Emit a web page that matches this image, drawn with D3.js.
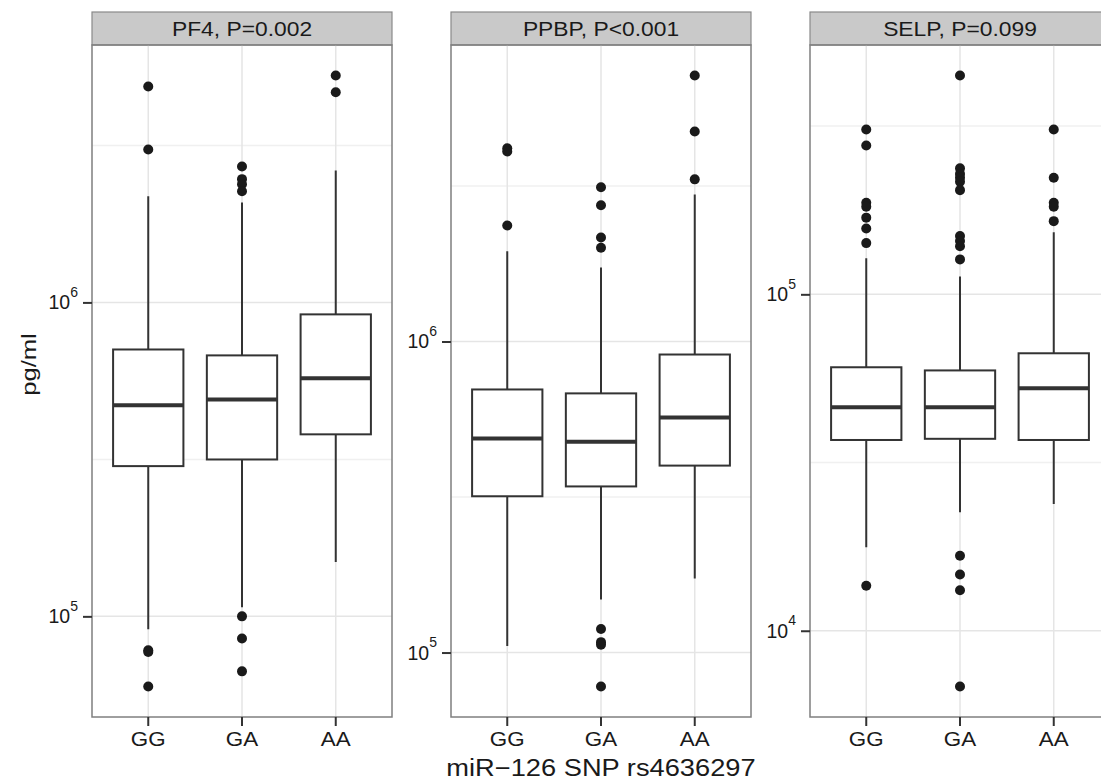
<!DOCTYPE html>
<html>
<head>
<meta charset="utf-8">
<script src="https://cdn.jsdelivr.net/npm/d3@7"></script>
<style>
  html, body { margin: 0; padding: 0; background: #fff; }
  svg { display: block; font-family: "Liberation Sans", Arial, sans-serif; }
</style>
</head>
<body>
<div id="chart"></div>
<script>
const genotypes = ["GG", "GA", "AA"]
const panelTitles = ["PF4, P=0.002", "PPBP, P<0.001", "SELP, P=0.099"]

// [lower whisker, Q1, median, Q3, upper whisker] per genotype
const pf4Stats = [
  [9.1e4, 3.01e5, 4.7e5, 7.08e5, 2.18e6],
  [1.07e5, 3.16e5, 4.91e5, 6.78e5, 2.08e6],
  [1.49e5, 3.8e5, 5.73e5, 9.16e5, 2.63e6]
]
const pf4Outliers = [
  [4.87e6, 3.07e6, 7.8e4, 7.7e4, 5.98e4],
  [2.71e6, 2.47e6, 2.38e6, 2.26e6, 1.0e5, 8.5e4, 6.68e4],
  [5.28e6, 4.67e6]
]

const ppbpStats = [
  [1.05e5, 3.18e5, 4.88e5, 7.01e5, 1.95e6],
  [1.48e5, 3.42e5, 4.76e5, 6.81e5, 1.73e6],
  [1.73e5, 3.99e5, 5.7e5, 9.08e5, 2.97e6]
]
const ppbpOutliers = [
  [4.18e6, 4.08e6, 2.36e6],
  [3.13e6, 2.74e6, 2.16e6, 2.0e6, 1.19e5, 1.08e5, 1.06e5, 7.78e4],
  [7.16e6, 4.73e6, 3.32e6]
]

const selpStats = [
  [1.77e4, 3.69e4, 4.62e4, 6.07e4, 1.28e5],
  [2.25e4, 3.72e4, 4.62e4, 5.94e4, 1.13e5],
  [2.38e4, 3.69e4, 5.26e4, 6.68e4, 1.53e5]
]
const selpOutliers = [
  [3.09e5, 2.77e5, 1.87e5, 1.82e5, 1.69e5, 1.57e5, 1.42e5, 1.36e4],
  [4.47e5, 2.37e5, 2.28e5, 2.22e5, 2.16e5, 2.04e5, 1.49e5, 1.44e5, 1.39e5, 1.27e5, 1.67e4, 1.47e4, 1.32e4, 6.83e3],
  [3.09e5, 2.22e5, 1.87e5, 1.82e5, 1.65e5]
]

const panelStats = [pf4Stats, ppbpStats, selpStats]
const panelOutliers = [pf4Outliers, ppbpOutliers, selpOutliers]

const width = 1101
const height = 784
const panelLeft = [92, 451, 810]
const panelWidth = 300
const stripTop = 12
const panelTop = 45
const panelBottom = 717
const textColor = "#1a1a1a"

const svg = d3.select("#chart")
  .append("svg")
  .attr("width", width)
  .attr("height", height)

panelTitles.forEach((title, i) => {
  const stats = panelStats[i]
  const outliers = panelOutliers[i]
  const allVals = stats.flat().concat(outliers.flat())
  const lo = Math.log10(d3.min(allVals))
  const hi = Math.log10(d3.max(allVals))
  const pad = (hi - lo) * 0.05

  const x = d3.scaleBand()
    .domain(genotypes)
    .range([panelLeft[i], panelLeft[i] + panelWidth])
    .paddingInner(0)
    .paddingOuter(0.1)
  const y = d3.scaleLog()
    .domain([Math.pow(10, lo - pad), Math.pow(10, hi + pad)])
    .range([panelBottom, panelTop])

  const cx = (g) => x(g) + x.bandwidth() / 2
  const boxW = x.bandwidth() * 0.75

  const g = svg.append("g")

  // strip
  g.append("rect")
    .attr("x", panelLeft[i])
    .attr("y", stripTop)
    .attr("width", panelWidth)
    .attr("height", panelTop - stripTop)
    .attr("fill", "#c9c9c9")
    .attr("stroke", "#8a8a8a")
    .attr("stroke-width", 1.2)
  g.append("text")
    .attr("transform", `translate(${panelLeft[i] + panelWidth / 2},${(stripTop + panelTop) / 2 + 7}) scale(1.17,1)`)
    .attr("text-anchor", "middle")
    .attr("font-size", "19.5px")
    .attr("fill", textColor)
    .text(title)

  // gridlines
  const majors = d3.range(Math.ceil(lo - pad), Math.floor(hi + pad) + 1)
  const minors = d3.range(Math.floor(lo - pad) + 0.5, hi + pad, 1)
    .filter((d) => d > lo - pad && d < hi + pad)

  g.selectAll(".minor")
    .data(minors)
    .enter()
    .append("line")
    .attr("x1", panelLeft[i])
    .attr("x2", panelLeft[i] + panelWidth)
    .attr("y1", (d) => y(Math.pow(10, d)))
    .attr("y2", (d) => y(Math.pow(10, d)))
    .attr("stroke", "#f0f0f0")
    .attr("stroke-width", 1.5)
  g.selectAll(".major")
    .data(majors)
    .enter()
    .append("line")
    .attr("x1", panelLeft[i])
    .attr("x2", panelLeft[i] + panelWidth)
    .attr("y1", (d) => y(Math.pow(10, d)))
    .attr("y2", (d) => y(Math.pow(10, d)))
    .attr("stroke", "#e5e5e5")
    .attr("stroke-width", 1.5)
  g.selectAll(".vgrid")
    .data(genotypes)
    .enter()
    .append("line")
    .attr("x1", cx)
    .attr("x2", cx)
    .attr("y1", panelTop)
    .attr("y2", panelBottom)
    .attr("stroke", "#e5e5e5")
    .attr("stroke-width", 1.5)

  // whiskers
  g.selectAll(".whisker")
    .data(stats)
    .enter()
    .append("line")
    .attr("x1", (d, j) => cx(genotypes[j]))
    .attr("x2", (d, j) => cx(genotypes[j]))
    .attr("y1", (d) => y(d[0]))
    .attr("y2", (d) => y(d[4]))
    .attr("stroke", "#333333")
    .attr("stroke-width", 2)

  // boxes
  g.selectAll(".box")
    .data(stats)
    .enter()
    .append("rect")
    .attr("x", (d, j) => cx(genotypes[j]) - boxW / 2)
    .attr("y", (d) => y(d[3]))
    .attr("width", boxW)
    .attr("height", (d) => y(d[1]) - y(d[3]))
    .attr("fill", "#fff")
    .attr("stroke", "#333333")
    .attr("stroke-width", 2)

  g.selectAll(".median")
    .data(stats)
    .enter()
    .append("line")
    .attr("x1", (d, j) => cx(genotypes[j]) - boxW / 2)
    .attr("x2", (d, j) => cx(genotypes[j]) + boxW / 2)
    .attr("y1", (d) => y(d[2]))
    .attr("y2", (d) => y(d[2]))
    .attr("stroke", "#333333")
    .attr("stroke-width", 4)

  // outliers
  const pts = outliers.flatMap((arr, j) => arr.map((v) => ({ g: genotypes[j], v: v })))
  g.selectAll(".pt")
    .data(pts)
    .enter()
    .append("circle")
    .attr("cx", (d) => cx(d.g))
    .attr("cy", (d) => y(d.v))
    .attr("r", 5)
    .attr("fill", textColor)

  // panel border
  g.append("rect")
    .attr("x", panelLeft[i])
    .attr("y", panelTop)
    .attr("width", panelWidth)
    .attr("height", panelBottom - panelTop)
    .attr("fill", "none")
    .attr("stroke", "#7f7f7f")
    .attr("stroke-width", 1.5)

  // x axis
  const xAxis = g.append("g")
    .attr("transform", `translate(0,${panelBottom})`)
    .call(d3.axisBottom(x).tickSize(9).tickPadding(6))
  xAxis.select(".domain").remove()
  xAxis.selectAll(".tick line").attr("stroke", "#333333").attr("stroke-width", 2)
  xAxis.selectAll(".tick text")
    .attr("font-size", "20px")
    .attr("font-family", "Liberation Sans, Arial, sans-serif")
    .attr("fill", textColor)
    .attr("transform", "scale(1.12,1)")

  // y axis
  const yAxis = g.append("g")
    .attr("transform", `translate(${panelLeft[i]},0)`)
    .call(d3.axisLeft(y)
      .tickValues(majors.map((d) => Math.pow(10, d)))
      .tickSize(9)
      .tickPadding(5)
      .tickFormat(""))
  yAxis.select(".domain").remove()
  yAxis.selectAll(".tick line").attr("stroke", "#333333").attr("stroke-width", 2)
  yAxis.selectAll(".tick text")
    .attr("font-family", "Liberation Sans, Arial, sans-serif")
    .attr("fill", textColor)
    .attr("dy", "0.65em")
    .each(function (d) {
      const t = d3.select(this)
      t.append("tspan").attr("font-size", "19.5px").text("10")
      t.append("tspan")
        .attr("font-size", "14px")
        .attr("dy", "-0.9em")
        .text(Math.round(Math.log10(d)))
    })
})

svg.append("text")
  .attr("transform", `translate(${(panelLeft[0] + panelLeft[2] + panelWidth) / 2},776) scale(1.16,1)`)
  .attr("text-anchor", "middle")
  .attr("font-size", "23.5px")
  .attr("fill", textColor)
  .text("miR\u2212126 SNP rs4636297")

svg.append("text")
  .attr("transform", `translate(36,${(stripTop + panelBottom) / 2}) rotate(-90) scale(1.22,1)`)
  .attr("text-anchor", "middle")
  .attr("font-size", "21px")
  .attr("fill", textColor)
  .text("pg/ml")
</script>
</body>
</html>
